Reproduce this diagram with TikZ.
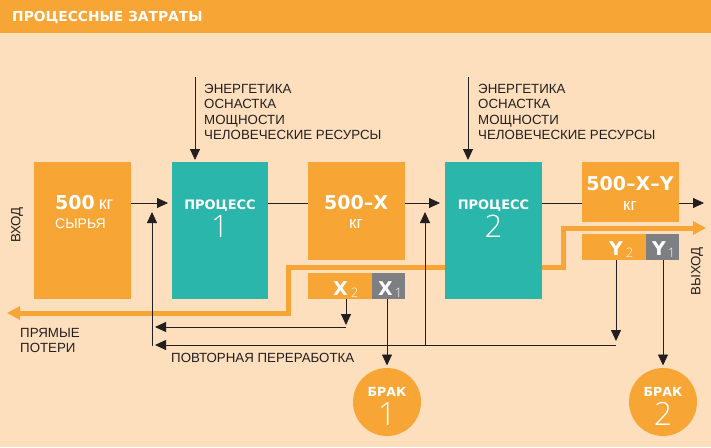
\documentclass[tikz,border=0pt]{standalone}
\usepackage{fontspec}
\setmainfont{Liberation Sans}
\newfontfamily\heavyfont{DejaVu Sans}
\IfFontExistsTF{Open Sans Light}{\newfontfamily\thinfont{Open Sans Light}}{%
 \IfFontExistsTF{Noto Sans Light}{\newfontfamily\thinfont{Noto Sans Light}}{%
  \IfFontExistsTF{DejaVu Sans ExtraLight}{\newfontfamily\thinfont{DejaVu Sans ExtraLight}}{%
   \newfontfamily\thinfont{Liberation Sans}}}}
\usetikzlibrary{arrows.meta}
\definecolor{bgc}{HTML}{FDDFBE}
\definecolor{orc}{HTML}{F7A534}
\definecolor{tlc}{HTML}{2BB6AC}
\definecolor{grc}{HTML}{7E7F83}
\definecolor{txc}{HTML}{231F20}
\newcommand\hvf[1]{\heavyfont\bfseries\fontsize{#1}{#1}\selectfont}
\newcommand\rgf[1]{\fontsize{#1}{#1}\selectfont}
\newcommand\thf[1]{\thinfont\fontsize{#1}{#1}\selectfont}
\begin{document}
\begin{tikzpicture}[x=1pt,y=-1pt,
  obox/.style={fill=orc, inner sep=0pt, outer sep=0pt},
  tbox/.style={fill=tlc, inner sep=0pt, outer sep=0pt},
  gbox/.style={fill=grc, inner sep=0pt, outer sep=0pt},
  circ/.style={circle, fill=orc, minimum size=68pt, inner sep=0pt, outer sep=0pt},
  lbl/.style={inner sep=0pt, text=txc, anchor=base west, font=\rgf{13.3}},
  wtxt/.style={inner sep=0pt, text=white},
  arr/.style={draw=txc, line width=0.9pt, -{Triangle[length=11pt,width=10pt]}},
  ln/.style={draw=txc, line width=0.9pt},
  oline/.style={draw=orc, line width=5pt, line join=miter,
     {Triangle[length=13pt,width=13pt]}-{Triangle[length=13pt,width=13pt]}}]
\fill[bgc] (0,0) rectangle (711,447);
\useasboundingbox (0,0) rectangle (711,447);
\fill[orc] (0,0) rectangle (711,33);
\node[wtxt, anchor=base west] (title) at (12,21.7) {\hvf{13.8}ПРОЦЕССНЫЕ ЗАТРАТЫ};

% orange loss / output line
\coordinate (oL) at (7,313);
\coordinate (oc1) at (288,313);
\coordinate (oc2) at (288,267);
\coordinate (oc3) at (563,267);
\coordinate (oc4) at (563,228);
\coordinate (oR) at (706,228);
\draw[oline] (oL) -- (oc1) -- (oc2) -- (oc3) -- (oc4) -- (oR);

% boxes
\node[obox, minimum width=97pt, minimum height=137pt] (boxA) at (82.5,230.5) {};
\node[tbox, minimum width=96pt, minimum height=137pt] (p1) at (220,230.5) {};
\node[obox, minimum width=97pt, minimum height=98pt] (boxB) at (356.5,211) {};
\node[obox, minimum width=64pt, minimum height=26pt] (x2) at (340,286) {};
\node[gbox, minimum width=33pt, minimum height=26pt] (x1) at (388.5,286) {};
\node[tbox, minimum width=97pt, minimum height=137pt] (p2) at (493.5,230.5) {};
\node[obox, minimum width=97pt, minimum height=60pt] (boxC) at (630.5,192) {};
\node[obox, minimum width=64pt, minimum height=26pt] (y2) at (614,247) {};
\node[gbox, minimum width=33pt, minimum height=26pt] (y1) at (662.5,247) {};
\node[circ] (brak1) at (387,402) {};
\node[circ] (brak2) at (663,402) {};

% texts in boxes
\node[wtxt, anchor=base west] (a1) at (55,209) {{\hvf{19}500}\hspace{4pt}{\rgf{18}кг}};
\node[wtxt, anchor=base west] (a2) at (55,228) {\rgf{14}СЫРЬЯ};
\node[wtxt, anchor=base] (p1a) at (220,209) {\hvf{13}ПРОЦЕСС};
\node[wtxt, anchor=base] (p1b) at (220,237) {\thf{31}1};
\node[wtxt, anchor=base] (b1) at (356,209) {\hvf{19}500–X};
\node[wtxt, anchor=base] (b2) at (356,228) {\rgf{17}кг};
\node[wtxt, anchor=base west] (x2t) at (333,295) {{\hvf{19}X}\hspace{3pt}\raisebox{-2pt}{\thf{13}2}};
\node[wtxt, anchor=base west] (x1t) at (378,295) {{\hvf{19}X}\hspace{2pt}\raisebox{-2pt}{\thf{13}1}};
\node[wtxt, anchor=base] (p2a) at (493.5,209) {\hvf{13}ПРОЦЕСС};
\node[wtxt, anchor=base] (p2b) at (493.5,237) {\thf{31}2};
\node[wtxt, anchor=base] (c1) at (630,190) {\hvf{19}500–X–Y};
\node[wtxt, anchor=base] (c2) at (630,210) {\rgf{17}кг};
\node[wtxt, anchor=base west] (y2t) at (609,255) {{\hvf{19}Y}\hspace{3pt}\raisebox{-2pt}{\thf{13}2}};
\node[wtxt, anchor=base west] (y1t) at (652,255) {{\hvf{19}Y}\hspace{2pt}\raisebox{-2pt}{\thf{13}1}};
\node[wtxt, anchor=base] (k1a) at (387,396) {\hvf{12.5}БРАК};
\node[wtxt, anchor=base] (k1b) at (387,425) {\thf{32}1};
\node[wtxt, anchor=base] (k2a) at (663,396) {\hvf{12.5}БРАК};
\node[wtxt, anchor=base] (k2b) at (663,425) {\thf{32}2};

% main flow
\coordinate (flow) at (0,203);
\draw[arr, shorten >=4pt] (boxA.east |- flow) -- (p1.west |- flow);
\draw[ln] (p1.east |- flow) -- (boxB.west |- flow);
\draw[arr, shorten >=5pt] (boxB.east |- flow) -- (p2.west |- flow);
\draw[ln] (p2.east |- flow) -- (boxC.west |- flow);
\coordinate (outC) at (704,203);
\draw[arr] (boxC.east |- flow) -- (outC);

% resource inputs
\coordinate (in1) at (195,77);
\draw[arr, shorten >=2pt] (in1) -- (in1 |- p1.north);
\coordinate (in2) at (468,77);
\draw[arr, shorten >=2pt] (in2) -- (in2 |- p2.north);
\node[lbl] (e1) at (204,93) {ЭНЕРГЕТИКА};
\node[lbl] (e2) at (204,108.5) {ОСНАСТКА};
\node[lbl] (e3) at (204,124) {МОЩНОСТИ};
\node[lbl] (e4) at (204,139.5) {ЧЕЛОВЕЧЕСКИЕ РЕСУРСЫ};
\node[lbl] (f1) at (478,93) {ЭНЕРГЕТИКА};
\node[lbl] (f2) at (478,108.5) {ОСНАСТКА};
\node[lbl] (f3) at (478,124) {МОЩНОСТИ};
\node[lbl] (f4) at (478,139.5) {ЧЕЛОВЕЧЕСКИЕ РЕСУРСЫ};

% rework
\coordinate (r1) at (152,346);
\coordinate (r1t) at (152,212);
\draw[arr] (r1) -- (r1t);
\coordinate (r2) at (425,345);
\coordinate (r2t) at (425,212);
\draw[arr] (r2) -- (r2t);
\coordinate (x2d) at (346,325);
\draw[arr] (x2.south -| x2d) -- (x2d);
\coordinate (h1s) at (346,327);
\coordinate (h1e) at (155,327);
\draw[arr] (h1s) -- (h1e);
\coordinate (y2d) at (616,341);
\draw[arr] (y2.south -| y2d) -- (y2d);
\coordinate (h2s) at (616,345);
\coordinate (h2e) at (155,345);
\draw[arr] (h2s) -- (h2e);
\draw[arr, shorten >=2.5pt] (x1.south -| brak1.north) -- (brak1.north);
\draw[arr, shorten >=2.5pt] (y1.south -| brak2.north) -- (brak2.north);

% side labels
\node[lbl, anchor=center, rotate=90] (vhod) at (17,225) {ВХОД};
\node[lbl, anchor=center, rotate=90] (vyhod) at (697,271.5) {ВЫХОД};
\node[lbl] (pl1) at (20,337) {ПРЯМЫЕ};
\node[lbl] (pl2) at (20,352) {ПОТЕРИ};
\node[lbl] (rw) at (171,362) {ПОВТОРНАЯ ПЕРЕРАБОТКА};
\end{tikzpicture}
\end{document}
